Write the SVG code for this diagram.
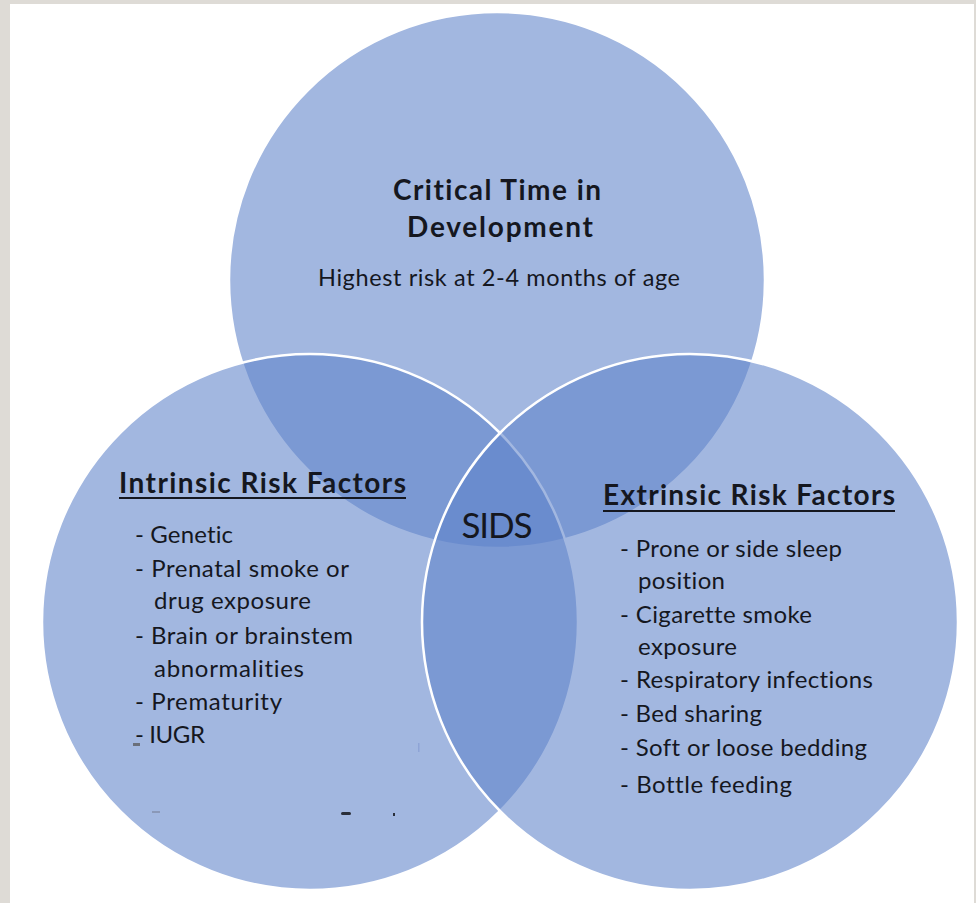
<svg xmlns="http://www.w3.org/2000/svg" width="976" height="903" viewBox="0 0 976 903">
<style>
.c{fill:#5f83ca;fill-opacity:0.58;stroke:#ffffff;stroke-width:2.5}
text{font-family:Lato,"Liberation Sans",sans-serif;fill:#15171f;font-variant-ligatures:none}
.h{font-weight:bold;font-size:28px}
.t{font-size:23.5px}
.s{font-size:24px}
.u{stroke:#15171f;stroke-width:2}
</style>
<rect x="0" y="0" width="976" height="903" fill="#ffffff"/>
<rect x="0" y="0" width="10" height="903" fill="#dedbd6"/>
<rect x="0" y="0" width="976" height="4" fill="#dedbd6"/>
<rect x="974" y="0" width="2" height="903" fill="#dedbd6"/>
<g id="critical-time">
<circle class="c" cx="497" cy="280" r="268"/>
<text class="h" x="497" y="200" text-anchor="middle" textLength="208">Critical Time in</text>
<text class="h" x="500" y="237" text-anchor="middle" textLength="186">Development</text>
<text class="t" x="318" y="286" textLength="362">Highest risk at 2-4 months of age</text>
</g>
<g id="intrinsic">
<circle class="c" cx="310" cy="622" r="268"/>
<text class="h" x="119" y="493" textLength="287">Intrinsic Risk Factors</text>
<line class="u" x1="119" y1="498" x2="406" y2="498"/>
<text class="s" x="135" y="543" textLength="98">- Genetic</text>
<text class="s" x="135" y="577" textLength="214">- Prenatal smoke or</text>
<text class="s" x="154" y="609" textLength="157">drug exposure</text>
<text class="s" x="135" y="644" textLength="218">- Brain or brainstem</text>
<text class="s" x="154" y="677" textLength="150">abnormalities</text>
<text class="s" x="135" y="710" textLength="147">- Prematurity</text>
<text class="s" x="135" y="743" textLength="70">- IUGR</text>
<rect x="133" y="743" width="7" height="3" fill="#6a6f7a"/>
<rect x="418" y="743" width="1.5" height="9" fill="#8ea4d6"/>
<rect x="152" y="811" width="8" height="2" fill="#8a98b8"/>
<rect x="341" y="812" width="10" height="3" rx="1.5" fill="#2a2f3a"/>
<rect x="393" y="813" width="2" height="3" fill="#2a2f3a"/>
</g>
<g id="extrinsic">
<circle class="c" cx="690" cy="622" r="268"/>
<text class="h" x="603" y="505" textLength="292">Extrinsic Risk Factors</text>
<line class="u" x1="603" y1="511" x2="895" y2="511"/>
<text class="s" x="620" y="557" textLength="222">- Prone or side sleep</text>
<text class="s" x="638" y="589" textLength="87">position</text>
<text class="s" x="620" y="623" textLength="192">- Cigarette smoke</text>
<text class="s" x="638" y="655" textLength="99">exposure</text>
<text class="s" x="620" y="688" textLength="253">- Respiratory infections</text>
<text class="s" x="620" y="722" textLength="142">- Bed sharing</text>
<text class="s" x="620" y="756" textLength="247">- Soft or loose bedding</text>
<text class="s" x="620" y="793" textLength="172">- Bottle feeding</text>
</g>
<g id="sids">
<text x="497" y="538" text-anchor="middle" font-size="35" textLength="71">SIDS</text>
</g>
<g id="connectors"></g>
</svg>
